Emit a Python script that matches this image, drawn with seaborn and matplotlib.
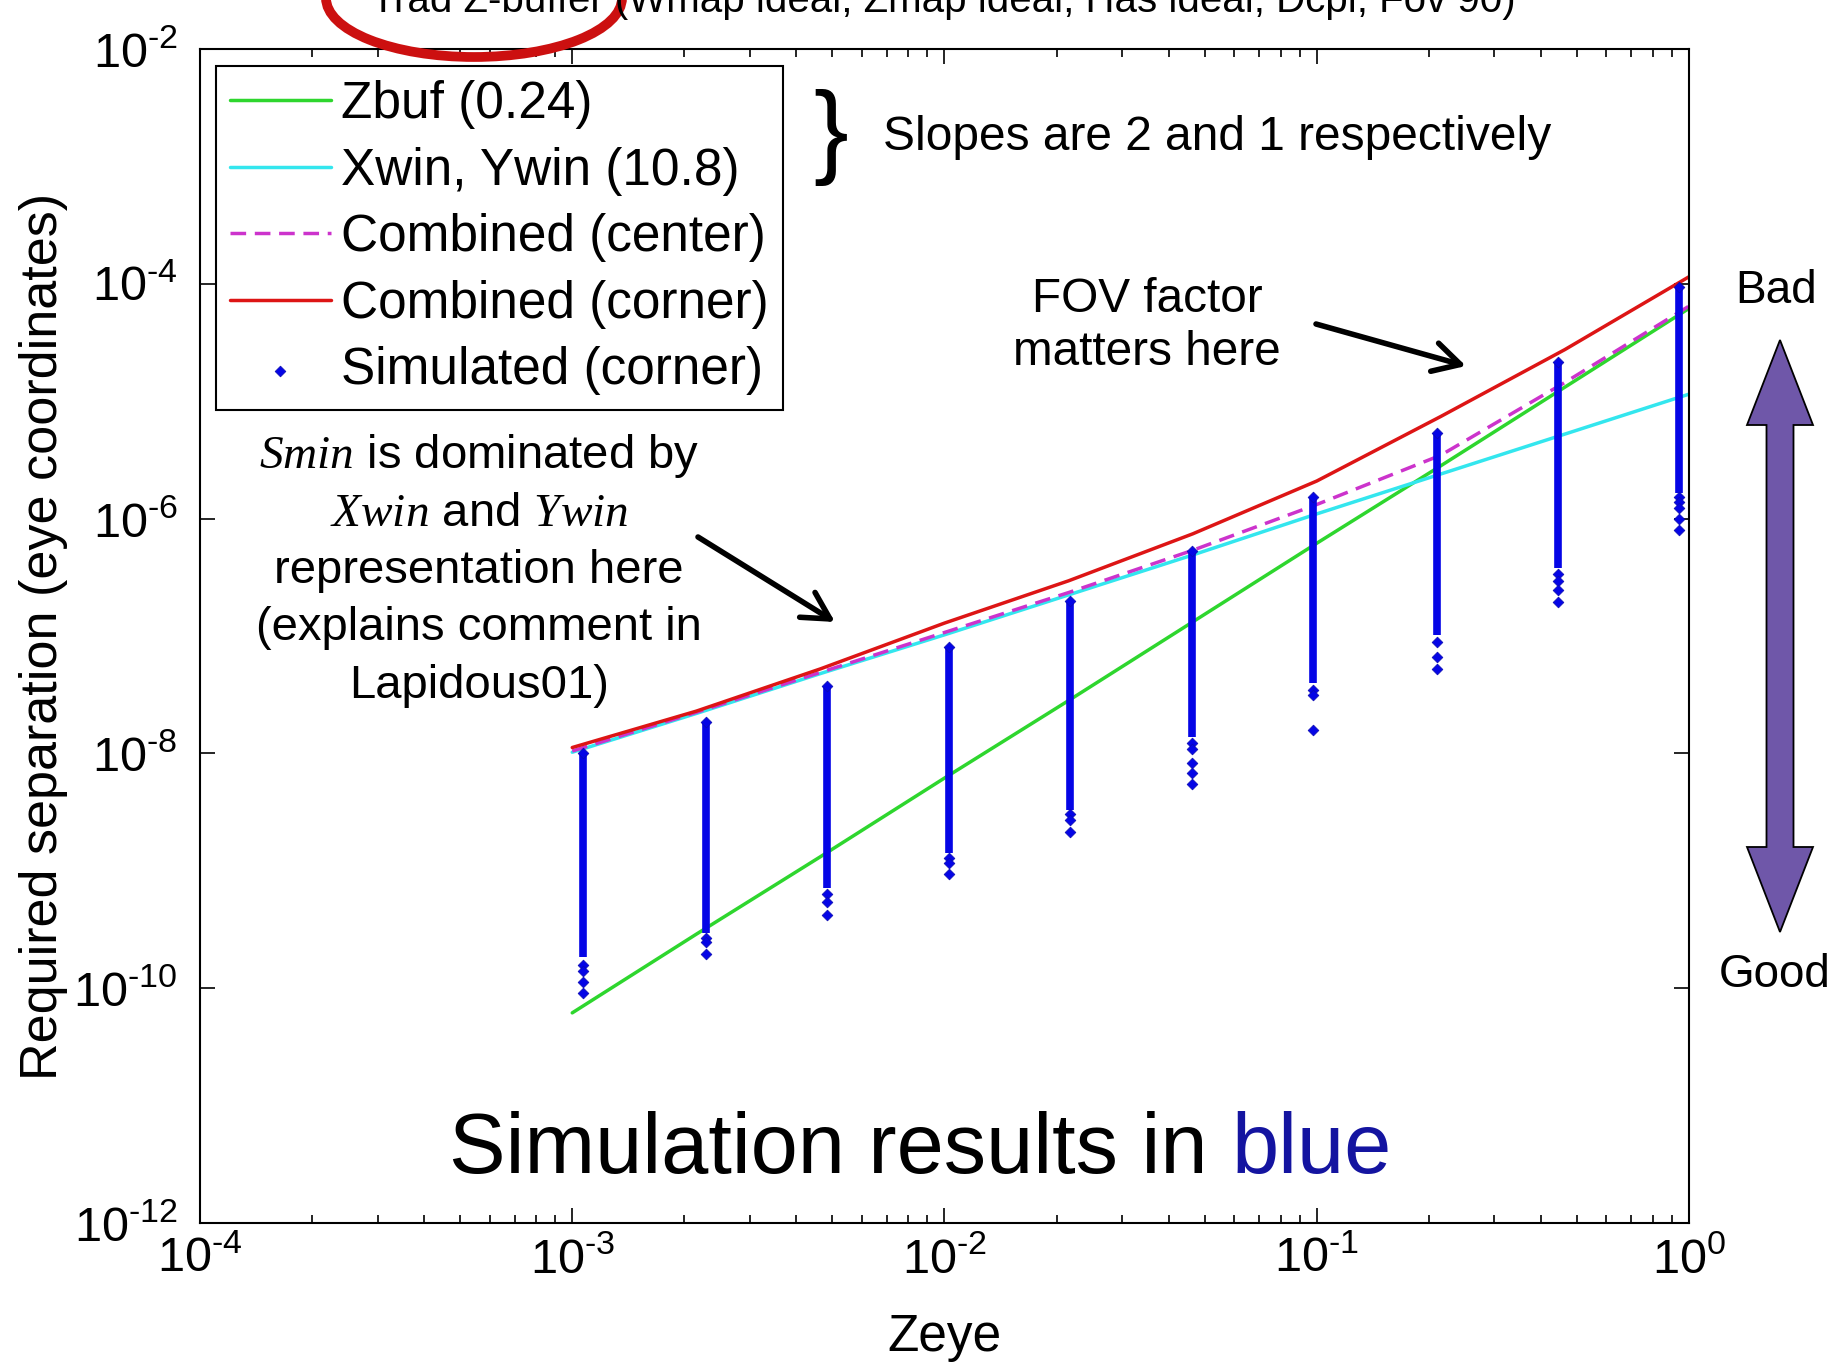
import numpy as np
import matplotlib
matplotlib.use("Agg")
import matplotlib.pyplot as plt
import seaborn as sns
from matplotlib.ticker import FixedLocator, NullLocator, FuncFormatter, NullFormatter
from matplotlib.patches import Ellipse, Polygon

# ---------------- data ----------------
zeye_line = [1.0e-3, 2.154e-3, 4.642e-3, 1.0e-2, 2.154e-2, 4.642e-2, 1.0e-1, 2.154e-1, 4.642e-1, 1.0]
# log10 of required separation
log_zbuf = [-10.21, -9.54, -8.88, -8.21, -7.55, -6.88, -6.21, -5.55, -4.88, -4.21]
log_xwin = [-7.99, -7.66, -7.32, -6.99, -6.65, -6.31, -5.96, -5.62, -5.28, -4.94]
log_center = [-7.98, -7.65, -7.31, -6.97, -6.63, -6.27, -5.88, -5.46, -4.84, -4.19]
log_corner = [-7.95, -7.64, -7.28, -6.89, -6.53, -6.13, -5.68, -5.13, -4.56, -3.94]

zeye_sim = [1.07e-3, 2.29e-3, 4.83e-3, 1.03e-2, 2.17e-2, 4.62e-2, 9.8e-2, 0.210, 0.445, 0.94]
log_sim_top = [-8.00, -7.73, -7.43, -7.09, -6.70, -6.28, -5.82, -5.27, -4.67, -4.03]
log_sim_low = [-9.73, -9.53, -9.15, -8.85, -8.48, -7.86, -7.40, -6.99, -6.42, -5.78]
log_sim_outliers = [
    [-9.80, -9.85, -9.95, -10.04],
    [-9.57, -9.61, -9.71],
    [-9.20, -9.27, -9.38],
    [-8.89, -8.93, -9.03],
    [-8.52, -8.57, -8.67],
    [-7.91, -7.96, -8.08, -8.17, -8.26],
    [-7.46, -7.50, -7.80],
    [-7.05, -7.18, -7.28],
    [-6.47, -6.53, -6.61, -6.71],
    [-5.82, -5.86, -5.91, -6.00, -6.10],
]

labels = ["Zbuf (0.24)", "Xwin, Ywin (10.8)", "Combined (center)",
          "Combined (corner)", "Simulated (corner)"]
x_ticks = [1e-4, 1e-3, 1e-2, 1e-1, 1e0]
y_ticks = [1e-12, 1e-10, 1e-8, 1e-6, 1e-4, 1e-2]
title = "Trad Z-buffer (Wmap ideal, Zmap ideal, Has ideal, Dcpl, Fov 90)"

# ---------------- style ----------------
sns.set_style("white")
plt.rcParams["font.family"] = ["Liberation Sans", "DejaVu Sans"]
plt.rcParams["mathtext.fontset"] = "custom"
plt.rcParams["mathtext.rm"] = "Liberation Sans"
plt.rcParams["mathtext.sf"] = "Liberation Sans"
plt.rcParams["mathtext.it"] = "Liberation Serif:italic"
plt.rcParams["mathtext.bf"] = "Liberation Sans:bold"
for k in ["text.color", "axes.labelcolor", "xtick.color", "ytick.color", "axes.edgecolor"]:
    plt.rcParams[k] = "black"

W, H = 1839, 1370
fig = plt.figure(figsize=(W / 100, H / 100), dpi=100)
fig.patch.set_facecolor("white")
ax = fig.add_axes([200 / W, (H - 1223) / H, 1489 / W, 1174 / H])
ax.set_xscale("log")
ax.set_yscale("log")
ax.set_xlim(1e-4, 1)
ax.set_ylim(1e-12, 1e-2)

c_green = "#2ed62e"
c_cyan = "#33e6ee"
c_mag = "#cc33cc"
c_red = "#dd1515"
c_blue = "#0505e6"

lw = 2.5
sns.lineplot(x=zeye_line, y=10 ** np.array(log_zbuf), ax=ax, color=c_green, lw=lw, label=labels[0])
sns.lineplot(x=zeye_line, y=10 ** np.array(log_xwin), ax=ax, color=c_cyan, lw=lw, label=labels[1])
sns.lineplot(x=zeye_line, y=10 ** np.array(log_center), ax=ax, color=c_mag, lw=lw, label=labels[2])
ax.lines[-1].set_dashes([4.5, 2.5])
sns.lineplot(x=zeye_line, y=10 ** np.array(log_corner), ax=ax, color=c_red, lw=lw, label=labels[3])

# simulated columns: continuous range + individual sparse points
ax.vlines(zeye_sim, 10 ** np.array(log_sim_low), 10 ** np.array(log_sim_top),
          colors=c_blue, lw=5.5, capstyle="butt", zorder=4)
sx, sy = [], []
for xv, top, outs in zip(zeye_sim, log_sim_top, log_sim_outliers):
    sx.append(xv); sy.append(10 ** top)
    for o in outs:
        sx.append(xv); sy.append(10 ** o)
sns.scatterplot(x=sx, y=sy, ax=ax, marker="D", s=30, color=c_blue,
                edgecolor="#0a0ab0", linewidth=0.5, zorder=5, label=labels[4])

HYPHEN = "\u2010"


# ticks (MATLAB-like labels with a short hyphen in the exponent)
def pow10(v, pos):
    e = int(round(np.log10(v)))
    if e < 0:
        return "$\\mathdefault{10^{" + HYPHEN + str(-e) + "}}$"
    return "$\\mathdefault{10^{" + str(e) + "}}$"


ax.xaxis.set_major_locator(FixedLocator(x_ticks))
ax.xaxis.set_minor_locator(FixedLocator([m * d for d in [1e-4, 1e-3, 1e-2, 1e-1] for m in range(2, 10)]))
ax.xaxis.set_minor_formatter(NullFormatter())
ax.xaxis.set_major_formatter(FuncFormatter(pow10))
ax.yaxis.set_major_locator(FixedLocator(y_ticks))
ax.yaxis.set_minor_locator(NullLocator())
ax.yaxis.set_major_formatter(FuncFormatter(pow10))
ax.tick_params(which="both", direction="in", top=True, right=True, bottom=True, left=True,
               color="black", width=1.2, labelcolor="black")
ax.tick_params(which="major", length=11)
ax.tick_params(which="minor", length=6)
ax.tick_params(axis="x", which="major", labelsize=35, pad=10)
ax.tick_params(axis="y", which="major", labelsize=35, pad=16)
for s in ax.spines.values():
    s.set_color("black")
    s.set_linewidth(1.5)

ax.set_xlabel("Zeye", fontsize=37, color="black")
ax.set_ylabel("Required separation (eye coordinates)", fontsize=37.5, color="black")
ax.xaxis.set_label_coords(0.5, -0.077)
ax.yaxis.set_label_coords(-0.0885, 0.5)

# legend
handles, labs = ax.get_legend_handles_labels()
order = [labs.index(l) for l in labels]
leg = ax.legend([handles[i] for i in order], [labs[i] for i in order],
                loc="upper left", bbox_to_anchor=(0.0107, 0.9855), borderaxespad=0,
                fontsize=37, frameon=True, fancybox=False, framealpha=1,
                handlelength=1.95, handletextpad=0.2, labelspacing=0.34,
                borderpad=0.28, markerscale=1.0)
leg.get_frame().set_edgecolor("black")
leg.get_frame().set_linewidth(1.5)
for t in leg.get_texts():
    t.set_color("black")


def fp(x, y):
    return (x / W, 1 - y / H)


# title (cut off at the top, as in the reference)
fig.text(943 / W, (H - 12) / H, title, ha="center", va="baseline", fontsize=29)
fig.add_artist(Ellipse(fp(474, -2), 296 / W, 118 / H, transform=fig.transFigure,
                       fill=False, ec="#cc1010", lw=7, clip_on=False))

# annotations
fig.text(*fp(831, 137), "}", fontsize=75, ha="center", va="center", fontweight="light")
fig.text(*fp(883, 137), "Slopes are 2 and 1 respectively", fontsize=34.5, ha="left", va="center")
fig.text(*fp(1147, 326), "FOV factor\nmatters here", fontsize=34.4, ha="center",
         va="center", linespacing=1.22)
left_lines = [r"$Smin$ is dominated by", r"$Xwin$ and $Ywin$", "representation here",
              "(explains comment in", "Lapidous01)"]
for i, t in enumerate(left_lines):
    fig.text(*fp(479, 456 + 57.5 * i), t, fontsize=34, ha="center", va="center")

arrow_kw = dict(arrowstyle="->, head_length=0.55, head_width=0.3", lw=4, color="black",
                mutation_scale=35, shrinkA=0, shrinkB=0)
ax.annotate("", xy=(835, H - 622), xytext=(698, H - 537), xycoords="figure pixels",
            textcoords="figure pixels", arrowprops=arrow_kw)
ax.annotate("", xy=(1466, H - 366), xytext=(1316, H - 324), xycoords="figure pixels",
            textcoords="figure pixels", arrowprops=arrow_kw)

t1 = fig.text(*fp(449, 1151), "Simulation results in", fontsize=61, ha="left", va="center")
ax.annotate("blue", xy=(1, 0), xycoords=t1, xytext=(17, 0), textcoords="offset points",
            fontsize=61, ha="left", va="bottom", color="#1414a0")

fig.text(*fp(1776, 291), "Bad", fontsize=33, ha="center", va="center")
fig.text(*fp(1775, 975), "Good", fontsize=33, ha="center", va="center")
cx = 1780
pts = [(cx, 340), (cx + 33, 425), (cx + 13.5, 425), (cx + 13.5, 847), (cx + 33, 847),
       (cx, 932), (cx - 33, 847), (cx - 13.5, 847), (cx - 13.5, 425), (cx - 33, 425)]
fig.add_artist(Polygon([fp(x, y) for x, y in pts], closed=True, transform=fig.transFigure,
                       fc="#6f57a9", ec="black", lw=1.3))

fig.savefig("out.png", dpi=100, facecolor="white")
